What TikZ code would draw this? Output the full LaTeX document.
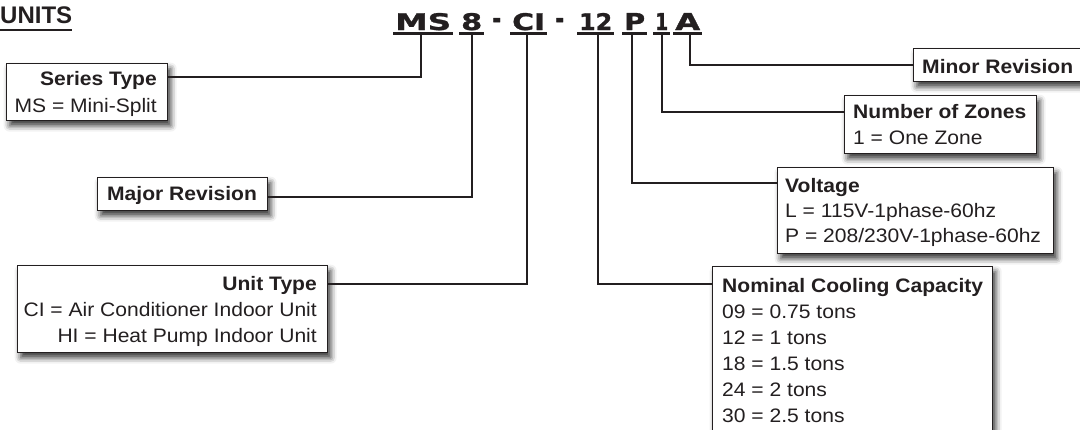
\documentclass[tikz,border=0pt]{standalone}
\usepackage{fontspec}
\setmainfont{Liberation Sans}[FakeStretch=1.08]
\newfontfamily\titlefont{Liberation Sans}
\newfontfamily\codefont{DejaVu Sans}[BoldFeatures={FakeBold=1.2}]
\usetikzlibrary{shadows.blur}
\definecolor{ink}{HTML}{231F20}
\tikzset{
  box/.style={draw=ink, line width=1.3pt, fill=white, rectangle, inner sep=0pt, anchor=north west,
    blur shadow={shadow xshift=3pt, shadow yshift=-5pt, shadow blur radius=6pt, shadow opacity=80}},
  conn/.style={draw=ink, line width=2.2pt},
  uline/.style={draw=ink, line width=2.2pt},
  txt/.style={inner sep=0pt, text=ink, font=\fontsize{19.5}{24}\selectfont},
  btxt/.style={txt, font=\fontsize{19.5}{24}\selectfont\bfseries},
  code/.style={inner sep=0pt, text=ink, anchor=base west, font=\codefont\bfseries},
}
\begin{document}
\begin{tikzpicture}[x=1pt, y=-1pt]
\useasboundingbox (0,0) rectangle (1080,429);
\clip (0,0) rectangle (1080,429);

% title
\node[inner sep=0pt, text=ink, anchor=base west, font=\titlefont\fontsize{24}{24}\selectfont\bfseries] (title) at (0,23.5) {UNITS};
\draw[ink, line width=1.8pt] (title.base west) ++(0,6.5) coordinate (tl) -- (title.base east |- tl);

% model code
\node[code] (tMS) at (395,30) {\resizebox{56pt}{17pt}{MS}};
\node[code] (t8) at (461,30) {\resizebox{21pt}{17pt}{8}};
\node[code] (d1) at (492,28.5) {\resizebox{9pt}{10.5pt}{-}};
\node[code] (tCI) at (512,30) {\resizebox{33pt}{17pt}{CI}};
\node[code] (d2) at (555,28.5) {\resizebox{9pt}{10.5pt}{-}};
\node[code] (t12) at (579,30) {\resizebox{33pt}{17pt}{12}};
\node[code] (tP) at (624,30) {\resizebox{21pt}{17pt}{P}};
\node[code] (t1) at (655,30) {\resizebox{13pt}{17pt}{1}};
\node[code] (tA) at (675,30) {\resizebox{25pt}{17pt}{A}};

\foreach \n in {tMS,t8,tCI,t12,tP,t1,tA}{
  \draw[uline] ([shift={(-2pt,-3.5pt)}]\n.base west) -- ([shift={(2pt,-3.5pt)}]\n.base east);
}

\coordinate (uMS) at (421,33);
\coordinate (u8) at (472,33);
\coordinate (uCI) at (527,33);
\coordinate (u12) at (598,33);
\coordinate (uP) at (632,33);
\coordinate (u1) at (662,33);
\coordinate (uA) at (690,33);

% boxes
\node[box, minimum width=161pt, minimum height=57pt] (series) at (6,63) {};
\node[box, minimum width=170pt, minimum height=33pt] (major) at (97,177) {};
\node[box, minimum width=310pt, minimum height=87pt] (unit) at (17,265) {};
\node[box, minimum width=180pt, minimum height=33pt] (minor) at (913,48) {};
\node[box, minimum width=192pt, minimum height=58pt] (zones) at (844,95) {};
\node[box, minimum width=276pt, minimum height=86pt] (volt) at (777,167) {};
\node[box, minimum width=280pt, minimum height=180pt] (cool) at (712,266) {};

% connectors
\draw[conn] (uMS) |- ([yshift=-14pt]series.north east);
\draw[conn] (u8) |- ([yshift=-20pt]major.north east);
\draw[conn] (uCI) |- ([yshift=-19pt]unit.north east);
\draw[conn] (u12) |- ([yshift=-18pt]cool.north west);
\draw[conn] (uP) |- ([yshift=-16pt]volt.north west);
\draw[conn] (u1) |- ([yshift=-17pt]zones.north west);
\draw[conn] (uA) |- ([yshift=-17pt]minor.north west);

% texts
\node[btxt, anchor=base east] (s1) at (157,85) {Series Type};
\node[txt, anchor=base east] (s2) at (157,112) {MS = Mini-Split};

\node[btxt, anchor=base west] (m1) at (107,200) {Major Revision};

\node[btxt, anchor=base east] (ut1) at (317,290) {Unit Type};
\node[txt, anchor=base east] (ut2) at (317,316) {CI = Air Conditioner Indoor Unit};
\node[txt, anchor=base east] (ut3) at (317,342) {HI = Heat Pump Indoor Unit};

\node[btxt, anchor=base west] (mr1) at (922,73) {Minor Revision};

\node[btxt, anchor=base west] (z1) at (853,118) {Number of Zones};
\node[txt, anchor=base west] (z2) at (853,144) {1 = One Zone};

\node[btxt, anchor=base west] (v1) at (785,192) {Voltage};
\node[txt, anchor=base west] (v2) at (785,217) {L = 115V-1phase-60hz};
\node[txt, anchor=base west] (v3) at (785,242) {P = 208/230V-1phase-60hz};

\node[btxt, anchor=base west] (c1) at (722,292) {Nominal Cooling Capacity};
\node[txt, anchor=base west] (c2) at (722,318) {09 = 0.75 tons};
\node[txt, anchor=base west] (c3) at (722,344) {12 = 1 tons};
\node[txt, anchor=base west] (c4) at (722,370) {18 = 1.5 tons};
\node[txt, anchor=base west] (c5) at (722,396) {24 = 2 tons};
\node[txt, anchor=base west] (c6) at (722,422) {30 = 2.5 tons};
\end{tikzpicture}
\end{document}
